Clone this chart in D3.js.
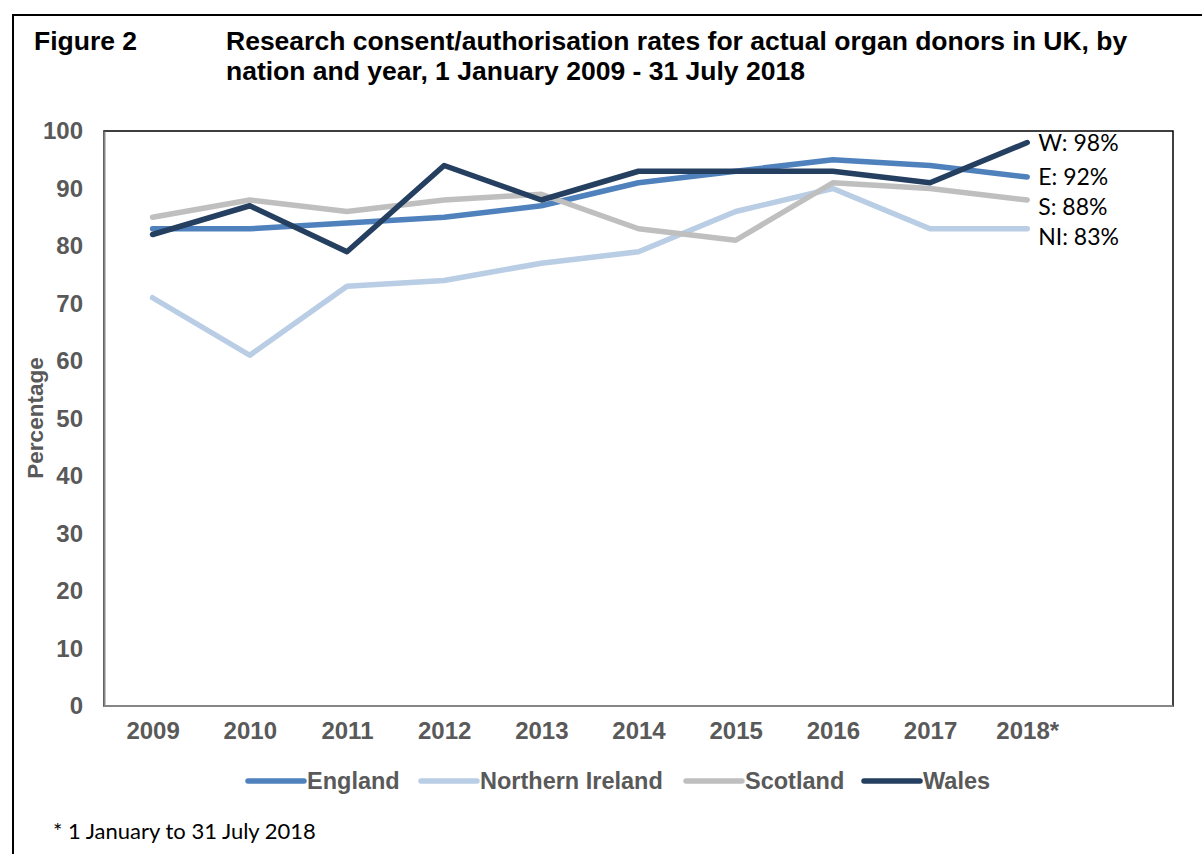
<!DOCTYPE html>
<html>
<head>
<meta charset="utf-8">
<script src="https://cdn.jsdelivr.net/npm/d3@7"></script>
<style>
  html, body { margin: 0; padding: 0; background: #fff; }
  svg { display: block; }
</style>
</head>
<body>
<svg id="chart" width="1202" height="854"></svg>
<script>
// Research consent/authorisation rates by nation and year (%)
const years = ["2009", "2010", "2011", "2012", "2013", "2014", "2015", "2016", "2017", "2018*"];
const england = [83, 83, 84, 85, 87, 91, 93, 95, 94, 92];
const northernIreland = [71, 61, 73, 74, 77, 79, 86, 90, 83, 83];
const scotland = [85, 88, 86, 88, 89, 83, 81, 91, 90, 88];
const wales = [82, 87, 79, 94, 88, 93, 93, 93, 91, 98];
const seriesNames = ["England", "Northern Ireland", "Scotland", "Wales"];
const seriesShort = ["E", "NI", "S", "W"];
const yTicks = [0, 10, 20, 30, 40, 50, 60, 70, 80, 90, 100];

const colors = ["#4F81BD", "#B9CDE5", "#BFBFBF", "#243F60"];
const seriesValues = [england, northernIreland, scotland, wales];
const series = seriesNames.map((name, i) => ({
  name, short: seriesShort[i], color: colors[i], values: seriesValues[i]
}));

const svg = d3.select("#chart");
const ink = "#595959";
const boldFont = "'Liberation Sans', Arial, sans-serif";
const bodyFont = "Lato, 'Open Sans', sans-serif";

// Outer figure frame
svg.append("rect")
  .attr("x", 13).attr("y", 15).attr("width", 1300).attr("height", 900)
  .attr("fill", "none").attr("stroke", "#000").attr("stroke-width", 2);

// Titles
svg.append("text")
  .attr("x", 34).attr("y", 50)
  .attr("font-family", boldFont).attr("font-weight", "bold").attr("font-size", 26.5)
  .attr("fill", "#000").text("Figure 2");
const title = svg.append("text")
  .attr("font-family", boldFont).attr("font-weight", "bold").attr("font-size", 26.5)
  .attr("fill", "#000");
title.append("tspan").attr("x", 226).attr("y", 50)
  .text("Research consent/authorisation rates for actual organ donors in UK, by");
title.append("tspan").attr("x", 226).attr("y", 80)
  .text("nation and year, 1 January 2009 - 31 July 2018");

// Plot area
const plot = { left: 104, top: 131, right: 1173, bottom: 706 };
const step = (plot.right - plot.left) / (years.length + 1);

const x = d3.scalePoint()
  .domain(years)
  .range([plot.left + step / 2, plot.left + step * (years.length - 0.5)]);
const y = d3.scaleLinear().domain([0, 100]).range([plot.bottom, plot.top]);

svg.append("rect")
  .attr("x", plot.left).attr("y", plot.top)
  .attr("width", plot.right - plot.left).attr("height", plot.bottom - plot.top)
  .attr("fill", "#fff").attr("stroke", "#000").attr("stroke-width", 1.5);

// Y axis
const yAxis = svg.append("g")
  .attr("transform", `translate(${plot.left},0)`)
  .call(d3.axisLeft(y).tickValues(yTicks).tickSize(0).tickPadding(21));
yAxis.select(".domain").attr("stroke", "#868686").attr("stroke-width", 2);
yAxis.selectAll("text")
  .attr("font-family", boldFont).attr("font-weight", "bold").attr("font-size", 24)
  .attr("fill", ink);

// X axis
const xAxis = svg.append("g")
  .attr("transform", `translate(0,${plot.bottom})`)
  .call(d3.axisBottom(x).tickSize(0).tickPadding(16));
xAxis.select(".domain")
  .attr("d", `M${plot.left},0H${plot.right}`)
  .attr("stroke", "#868686").attr("stroke-width", 2);
xAxis.selectAll("text")
  .attr("font-family", boldFont).attr("font-weight", "bold").attr("font-size", 24)
  .attr("fill", ink);

// Y axis title
svg.append("text")
  .attr("transform", `translate(43,418) rotate(-90)`)
  .attr("text-anchor", "middle")
  .attr("font-family", boldFont).attr("font-weight", "bold").attr("font-size", 22.5)
  .attr("fill", ink).text("Percentage");

// Lines
const line = d3.line()
  .x((d, i) => x(years[i]))
  .y(d => y(d));

svg.append("g").selectAll("path")
  .data(series)
  .join("path")
  .attr("d", d => line(d.values))
  .attr("fill", "none")
  .attr("stroke", d => d.color)
  .attr("stroke-width", 5.5)
  .attr("stroke-linejoin", "round")
  .attr("stroke-linecap", "round");

// End-of-line value labels, stacked in value order
const last = years.length - 1;
const endLabels = series
  .map(s => ({ s, v: s.values[last] }))
  .sort((a, b) => b.v - a.v);
let prevY = -Infinity;
endLabels.forEach(d => {
  d.y = Math.max(y(d.v), prevY + 30);
  prevY = d.y;
});
svg.append("g").selectAll("text")
  .data(endLabels)
  .join("text")
  .attr("x", x(years[last]) + 11)
  .attr("y", d => d.y)
  .attr("dy", "0.35em")
  .attr("font-family", bodyFont).attr("font-size", 23)
  .attr("fill", "#000")
  .text(d => `${d.s.short}: ${d.v}%`);

// Legend
const legendX = [248, 421, 686, 864];
const legend = svg.append("g").selectAll("g")
  .data(series)
  .join("g")
  .attr("transform", (d, i) => `translate(${legendX[i]},781)`);
legend.append("line")
  .attr("x1", 0).attr("x2", 56).attr("y1", 0).attr("y2", 0)
  .attr("stroke", d => d.color).attr("stroke-width", 5.5)
  .attr("stroke-linecap", "round");
legend.append("text")
  .attr("x", 59).attr("dy", "0.35em")
  .attr("font-family", boldFont).attr("font-weight", "bold").attr("font-size", 23.5)
  .attr("fill", ink)
  .text(d => d.name);

// Footnote
svg.append("text")
  .attr("x", 53).attr("y", 839)
  .attr("font-family", bodyFont).attr("font-size", 22)
  .attr("fill", "#000")
  .text("* 1 January to 31 July 2018");
</script>
</body>
</html>
